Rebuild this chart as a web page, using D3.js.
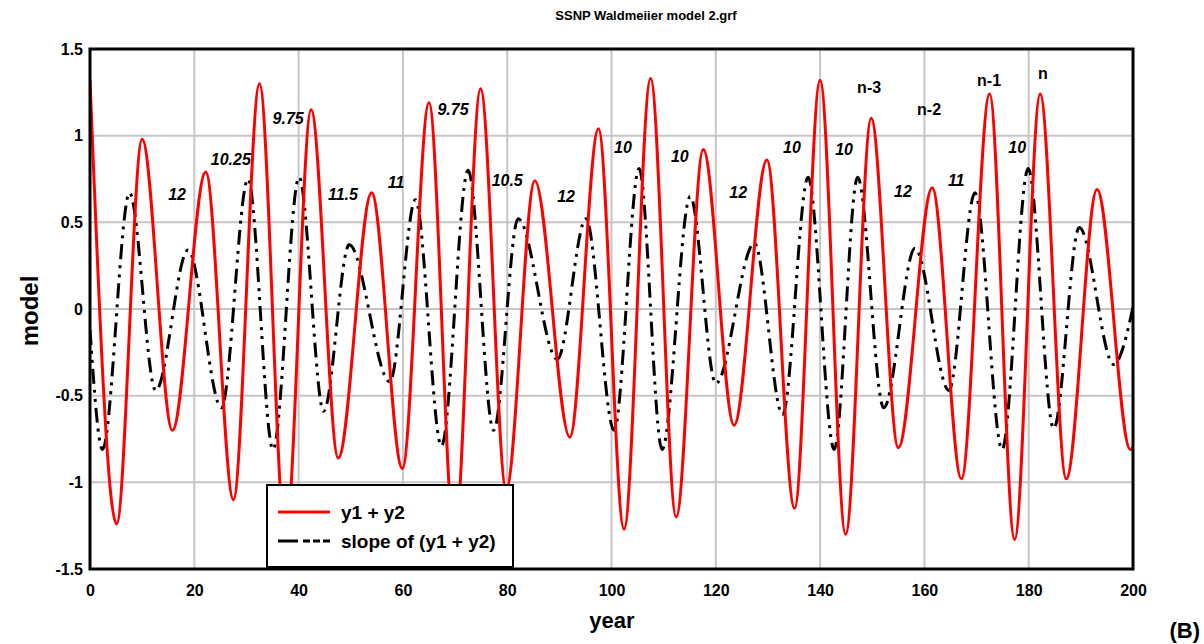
<!DOCTYPE html>
<html>
<head>
<meta charset="utf-8">
<script src="https://cdn.jsdelivr.net/npm/d3@7"></script>
<style>
  html, body { margin: 0; padding: 0; background: #fff; }
  svg { display: block; font-family: "Liberation Sans", Arial, sans-serif; }
</style>
</head>
<body>
<svg id="chart" width="1204" height="644"></svg>
<script>
// Sum of the two cycle components: turning points (year, value)
const sumYears = [0, 5.1, 10.0, 15.8, 22.2, 27.5, 32.5, 37.5, 42.4, 47.6, 54.0, 59.9, 65.0, 69.9,
  74.9, 79.8, 85.3, 92.0, 97.5, 102.4, 107.5, 112.4, 117.6, 123.5, 129.8, 135.1, 140.0, 144.9,
  149.8, 155.0, 161.5, 167.1, 172.5, 177.3, 182.2, 187.2, 193.1, 199.5, 200];
const sumValues = [1.32, -1.24, 0.98, -0.70, 0.79, -1.10, 1.30, -1.32, 1.15, -0.86, 0.67, -0.92, 1.19, -1.32,
  1.27, -1.04, 0.74, -0.74, 1.04, -1.27, 1.33, -1.20, 0.92, -0.67, 0.86, -1.15, 1.32, -1.30,
  1.10, -0.80, 0.70, -0.98, 1.24, -1.33, 1.24, -0.98, 0.69, -0.81, -0.80];

// Slope of the sum: turning points (year, value)
const slopeYears = [0, 2.4, 7.6, 12.6, 18.8, 25.2, 30.3, 35.1, 40.1, 44.8, 49.7, 57.5, 62.4, 67.4,
  72.5, 77.4, 82.1, 89.6, 95.1, 100.5, 105.3, 109.7, 115.1, 120.0, 127.4, 132.8, 137.7, 142.7,
  147.2, 152.2, 158.2, 164.7, 169.7, 174.9, 179.9, 184.8, 189.7, 196.3, 200];
const slopeValues = [-0.12, -0.81, 0.67, -0.47, 0.34, -0.57, 0.75, -0.81, 0.76, -0.59, 0.37, -0.42, 0.63, -0.79,
  0.80, -0.70, 0.52, -0.29, 0.52, -0.70, 0.81, -0.81, 0.65, -0.43, 0.38, -0.61, 0.76, -0.81,
  0.76, -0.57, 0.35, -0.47, 0.67, -0.81, 0.81, -0.69, 0.47, -0.32, 0.01];

// Cycle-length notes (italic) and cycle labels (upright)
const cycleNoteText  = ["12", "10.25", "9.75", "11.5", "11", "9.75", "10.5", "12", "10", "10", "12", "10", "10", "12", "11", "10"];
const cycleNoteYear  = [16.7, 27.0, 38.0, 48.5, 58.7, 69.6, 80.0, 91.3, 102.2, 113.1, 124.3, 134.6, 144.6, 155.9, 166.1, 177.8];
const cycleNoteValue = [0.66, 0.86, 1.10, 0.66, 0.73, 1.15, 0.74, 0.65, 0.93, 0.88, 0.67, 0.93, 0.92, 0.68, 0.74, 0.93];
const cycleTagText  = ["n-3", "n-2", "n-1", "n"];
const cycleTagYear  = [149.4, 160.9, 172.4, 182.7];
const cycleTagValue = [1.28, 1.15, 1.32, 1.36];

const xTicks = [0, 20, 40, 60, 80, 100, 120, 140, 160, 180, 200];
const yTicks = [-1.5, -1, -0.5, 0, 0.5, 1, 1.5];
const seriesNames = ["y1 + y2", "slope of (y1 + y2)"];

const svg = d3.select("#chart");
const plotLeft = 90, plotRight = 1133, plotTop = 49, plotBottom = 569;

const x = d3.scaleLinear().domain([0, 200]).range([plotLeft, plotRight]);
const y = d3.scaleLinear().domain([-1.5, 1.5]).range([plotBottom, plotTop]);

// Title
svg.append("text")
  .attr("x", 646).attr("y", 20)
  .attr("text-anchor", "middle")
  .attr("font-size", 13).attr("font-weight", "bold")
  .text("SSNP Waldmeiier model 2.grf");

// Grid
const grid = svg.append("g").attr("stroke", "#c6c6c6").attr("stroke-width", 2);
grid.selectAll(".vg").data(xTicks.slice(1, -1)).join("line")
  .attr("x1", d => x(d)).attr("x2", d => x(d))
  .attr("y1", plotTop).attr("y2", plotBottom);
grid.selectAll(".hg").data(yTicks.slice(1, -1)).join("line")
  .attr("x1", plotLeft).attr("x2", plotRight)
  .attr("y1", d => y(d)).attr("y2", d => y(d));

// Axes (labels only, no tick marks); plain hyphen for negatives
const xAxis = d3.axisBottom(x).tickValues(xTicks).tickSize(0).tickPadding(16).tickFormat(d => String(d));
const yAxis = d3.axisLeft(y).tickValues(yTicks).tickSize(0).tickPadding(7).tickFormat(d => String(d));
const gx = svg.append("g").attr("transform", `translate(0,${plotBottom})`).call(xAxis);
const gy = svg.append("g").attr("transform", `translate(${plotLeft},0)`).call(yAxis);
[gx, gy].forEach(g => {
  g.select(".domain").remove();
  g.selectAll("text").attr("font-size", 16).attr("font-weight", "bold")
    .attr("font-family", "'Liberation Sans', Arial, sans-serif").attr("fill", "#000");
});

// Axis titles
svg.append("text")
  .attr("x", 612).attr("y", 628)
  .attr("text-anchor", "middle")
  .attr("font-size", 22).attr("font-weight", "bold")
  .text("year");
svg.append("text")
  .attr("transform", "translate(38,311) rotate(-90)")
  .attr("text-anchor", "middle")
  .attr("font-size", 24).attr("font-weight", "bold")
  .text("model");
svg.append("text")
  .attr("x", 1200).attr("y", 638)
  .attr("text-anchor", "end")
  .attr("font-size", 22).attr("font-weight", "bold")
  .text("(B)");

// Curves
svg.append("clipPath").attr("id", "plot-clip")
  .append("rect").attr("x", plotLeft).attr("y", plotTop)
  .attr("width", plotRight - plotLeft).attr("height", plotBottom - plotTop);

const line = d3.line().x(d => x(d[0])).y(d => y(d[1])).curve(d3.curveMonotoneX);
const sumPts = sumYears.map((t, i) => [t, sumValues[i]]);
const slopePts = slopeYears.map((t, i) => [t, slopeValues[i]]);

const curves = svg.append("g").attr("clip-path", "url(#plot-clip)");
curves.append("path").datum(slopePts)
  .attr("d", line)
  .attr("fill", "none").attr("stroke", "#000").attr("stroke-width", 3)
  .attr("stroke-dasharray", "15,6,3,6,3,6");
curves.append("path").datum(sumPts)
  .attr("d", line)
  .attr("fill", "none").attr("stroke", "#ff0000").attr("stroke-width", 3);

// Annotations
const notes = svg.append("g").attr("font-size", 16).attr("font-weight", "bold");
cycleNoteText.forEach((t, i) => {
  notes.append("text")
    .attr("x", x(cycleNoteYear[i])).attr("y", y(cycleNoteValue[i]))
    .attr("text-anchor", "middle").attr("dominant-baseline", "central")
    .attr("font-style", "italic")
    .text(t);
});
cycleTagText.forEach((t, i) => {
  notes.append("text")
    .attr("x", x(cycleTagYear[i])).attr("y", y(cycleTagValue[i]))
    .attr("text-anchor", "middle").attr("dominant-baseline", "central")
    .text(t);
});

// Frame
svg.append("rect")
  .attr("x", plotLeft).attr("y", plotTop)
  .attr("width", plotRight - plotLeft).attr("height", plotBottom - plotTop)
  .attr("fill", "none").attr("stroke", "#000").attr("stroke-width", 3);

// Legend
const lg = svg.append("g").attr("transform", "translate(267,485)");
lg.append("rect").attr("width", 246).attr("height", 82)
  .attr("fill", "#fff").attr("stroke", "#000").attr("stroke-width", 2);
lg.append("line").attr("x1", 11).attr("x2", 63).attr("y1", 27).attr("y2", 27)
  .attr("stroke", "#ff0000").attr("stroke-width", 3);
lg.append("line").attr("x1", 11).attr("x2", 63).attr("y1", 56).attr("y2", 56)
  .attr("stroke", "#000").attr("stroke-width", 3)
  .attr("stroke-dasharray", "20,5,7,3,7,3,7");
lg.selectAll(".lt").data(seriesNames).join("text")
  .attr("x", 74).attr("y", (d, i) => 27 + i * 29)
  .attr("dominant-baseline", "central")
  .attr("font-size", 19).attr("font-weight", "bold")
  .text(d => d);
</script>
</body>
</html>
